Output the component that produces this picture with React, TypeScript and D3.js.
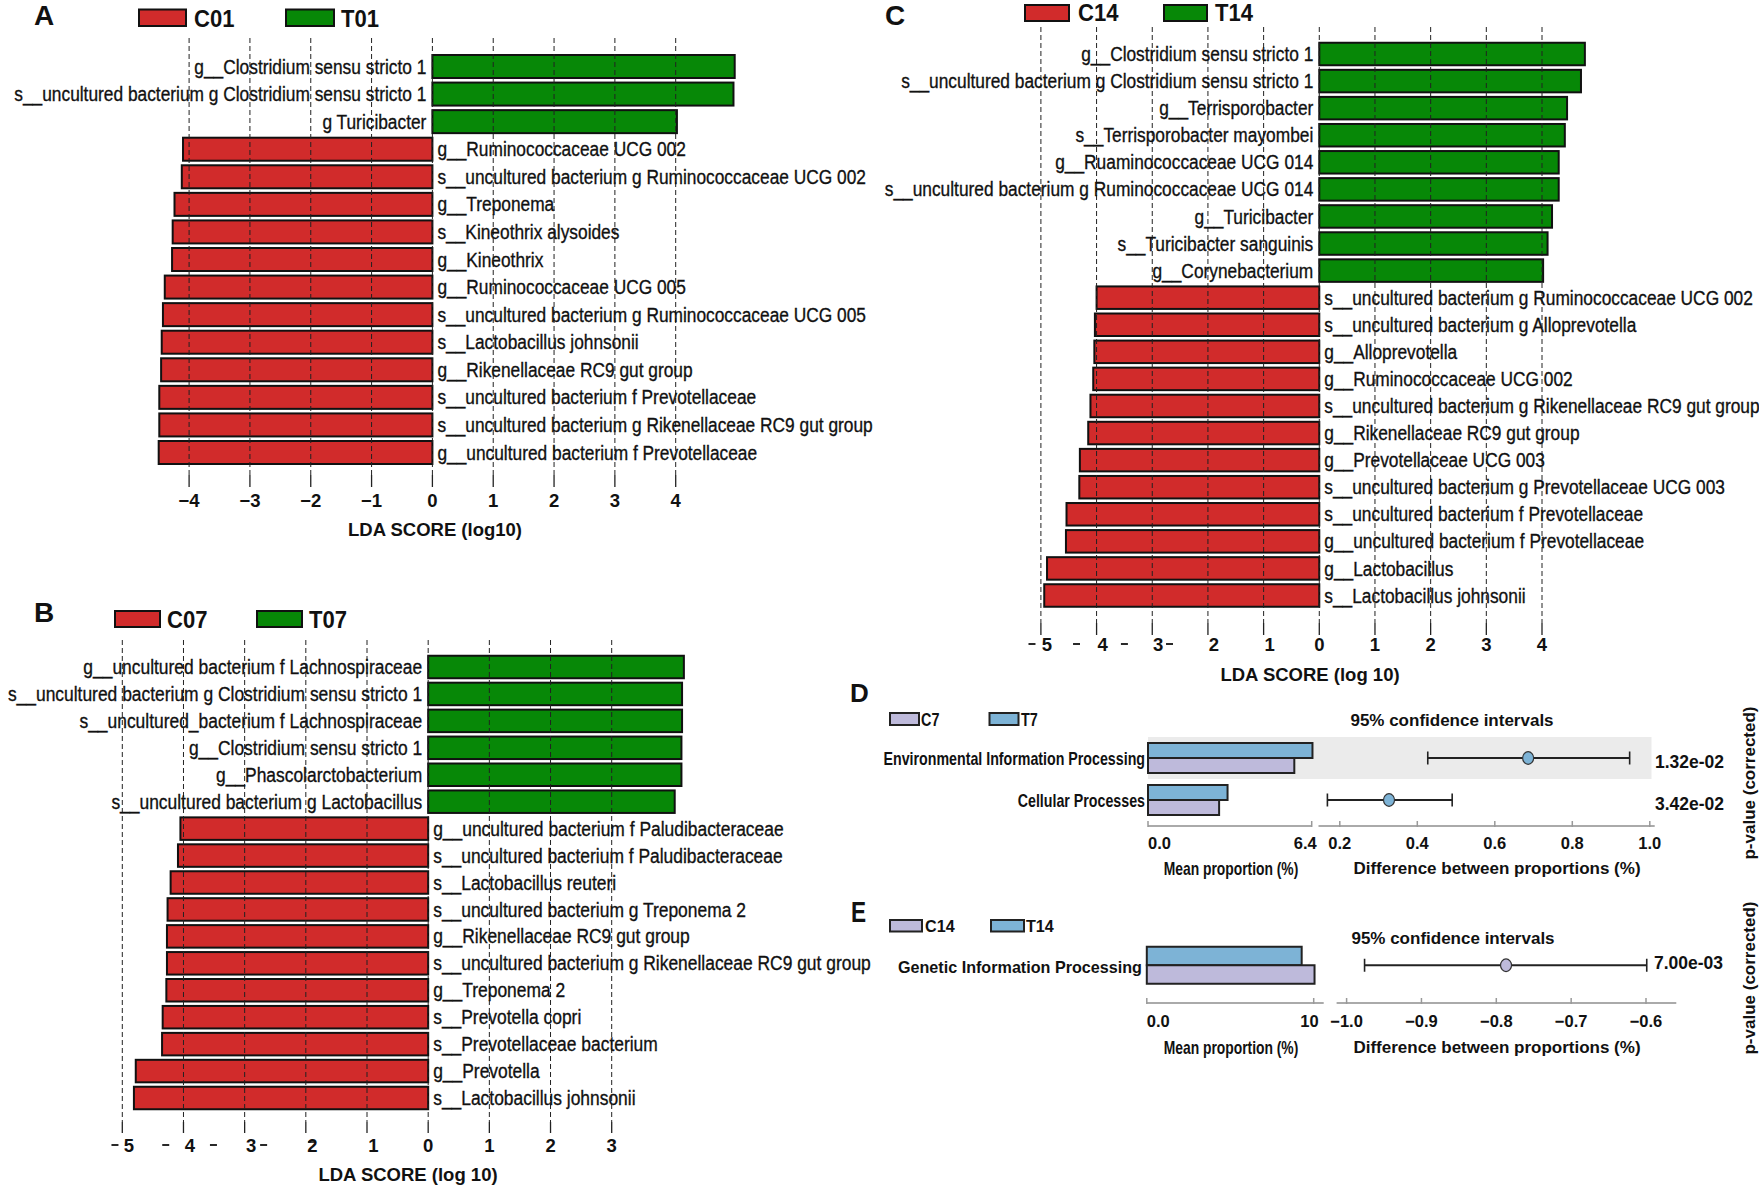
import React from 'react';
import * as d3 from 'd3';

const FONT = '"Liberation Sans", Arial, Helvetica, sans-serif';
const RED = '#d12b2b';
const GREEN = '#078807';
const BLUE = '#7db3d6';
const LAVENDER = '#bebadb';

// ---------------- Panel A data ----------------
const taxaA = [
  'g__Clostridium sensu stricto 1',
  's__uncultured bacterium g Clostridium sensu stricto 1',
  'g Turicibacter',
  'g__Ruminococcaceae UCG 002',
  's__uncultured bacterium g Ruminococcaceae UCG 002',
  'g__Treponema',
  's__Kineothrix alysoides',
  'g__Kineothrix',
  'g__Ruminococcaceae UCG 005',
  's__uncultured bacterium g Ruminococcaceae UCG 005',
  's__Lactobacillus johnsonii',
  'g__Rikenellaceae RC9 gut group',
  's__uncultured bacterium f Prevotellaceae',
  's__uncultured bacterium g Rikenellaceae RC9 gut group',
  'g__uncultured bacterium f Prevotellaceae',
];
const scoresA = [4.97, 4.95, 4.02, -4.1, -4.12, -4.24, -4.27, -4.28, -4.4, -4.43, -4.45, -4.46, -4.49, -4.49, -4.5];
const groupsA = ['C01', 'T01'];
const ticksA = [-4, -3, -2, -1, 0, 1, 2, 3, 4];
const tickLabelsA = ['−4', '−3', '−2', '−1', '0', '1', '2', '3', '4'];
const dashesA: number[] = [];
const struckA: number[] = [];

// ---------------- Panel B data ----------------
const taxaB = [
  'g__uncultured bacterium f Lachnospiraceae',
  's__uncultured bacterium g Clostridium sensu stricto 1',
  's__uncultured_bacterium f Lachnospiraceae',
  'g__Clostridium sensu stricto 1',
  'g__Phascolarctobacterium',
  's__uncultured bacterium g Lactobacillus',
  'g__uncultured bacterium f Paludibacteraceae',
  's__uncultured bacterium f Paludibacteraceae',
  's__Lactobacillus reuteri',
  's__uncultured bacterium g Treponema 2',
  'g__Rikenellaceae RC9 gut group',
  's__uncultured bacterium g Rikenellaceae RC9 gut group',
  'g__Treponema 2',
  's__Prevotella copri',
  's__Prevotellaceae bacterium',
  'g__Prevotella',
  's__Lactobacillus johnsonii',
];
const scoresB = [4.18, 4.15, 4.15, 4.14, 4.14, 4.03, -4.05, -4.09, -4.21, -4.26, -4.27, -4.27, -4.28, -4.34, -4.35, -4.78, -4.81];
const groupsB = ['C07', 'T07'];
const ticksB = [-5, -4, -3, -2, -1, 0, 1, 2, 3];
const tickLabelsB = ['5', '4', '3', '2', '1', '0', '1', '2', '3'];
const dashesB = [-5.12, -4.29, -3.51, -2.69];
const struckB = [-1.9];

// ---------------- Panel C data ----------------
const taxaC = [
  'g__Clostridium sensu stricto 1',
  's__uncultured bacterium g Clostridium sensu stricto 1',
  'g__Terrisporobacter',
  's__Terrisporobacter mayombei',
  'g__Ruaminococcaceae UCG 014',
  's__uncultured bacterium g Ruminococcaceae UCG 014',
  'g__Turicibacter',
  's__Turicibacter sanguinis',
  'g__Corynebacterium',
  's__uncultured bacterium g Ruminococcaceae UCG 002',
  's__uncultured bacterium g Alloprevotella',
  'g__Alloprevotella',
  'g__Ruminococcaceae UCG 002',
  's__uncultured bacterium g Rikenellaceae RC9 gut group',
  'g__Rikenellaceae RC9 gut group',
  'g__Prevotellaceae UCG 003',
  's__uncultured bacterium g Prevotellaceae UCG 003',
  's__uncultured bacterium f Prevotellaceae',
  'g__uncultured bacterium f Prevotellaceae',
  'g__Lactobacillus',
  's__Lactobacillus johnsonii',
];
const scoresC = [4.77, 4.7, 4.45, 4.41, 4.3, 4.3, 4.18, 4.1, 4.02, -4.0, -4.03, -4.04, -4.06, -4.11, -4.15, -4.3, -4.31, -4.54, -4.55, -4.89, -4.94];
const groupsC = ['C14', 'T14'];
const ticksC = [-5, -4, -3, -2, -1, 0, 1, 2, 3, 4];
const tickLabelsC = ['5', '4', '3', '2', '1', '0', '1', '2', '3', '4'];
const dashesC = [-5.16, -4.36, -3.5, -2.69];
const struckC: number[] = [];

// ---------------- Panel D data ----------------
const catsD = ['Environmental Information Processing', 'Cellular Processes'];
const groupsD = ['C7', 'T7'];
const meanTD = [6.43, 3.11];
const meanCD = [5.72, 2.78];
const diffD = [0.686, 0.327];
const loD = [0.427, 0.168];
const hiD = [0.948, 0.49];
const pD = ['1.32e-02', '3.42e-02'];
const meanTicksD = [0, 6.4];
const meanTickLabelsD = ['0.0', '6.4'];
const diffTicksD = [0.2, 0.4, 0.6, 0.8, 1.0];
const diffTickLabelsD = ['0.2', '0.4', '0.6', '0.8', '1.0'];

// ---------------- Panel E data ----------------
const catsE = ['Genetic Information Processing'];
const groupsE = ['C14', 'T14'];
const meanTE = [9.28];
const meanCE = [10.05];
const diffE = [-0.787];
const loE = [-0.976];
const hiE = [-0.599];
const pE = ['7.00e-03'];
const meanTicksE = [0, 10];
const meanTickLabelsE = ['0.0', '10'];
const diffTicksE = [-1.0, -0.9, -0.8, -0.7, -0.6];
const diffTickLabelsE = ['−1.0', '−0.9', '−0.8', '−0.7', '−0.6'];

// ---------------- Layout configs ----------------
const cfgA = {
  letter: 'A', letterX: 34, letterY: 25,
  legendY: 9.5, legendH: 16.5, legend: [{ x: 139, w: 47, tx: 194 }, { x: 286, w: 48, tx: 341 }], legendBase: 26.5,
  domain: [-4, 4], range: [189.1, 675.7],
  firstY: 66.5, lastY: 452.5, barH: 23,
  gridTop: 38, tickTop: 475, tickBottom: 487, tickLabelY: 500, negOffset: 0,
  title: 'LDA SCORE (log10)', titleX: 435, titleY: 529,
  labelSize: 21, labelScale: 0.825,
};
const cfgB = {
  letter: 'B', letterX: 34, letterY: 621.5,
  legendY: 611, legendH: 16, legend: [{ x: 115, w: 45, tx: 167 }, { x: 257, w: 45, tx: 309 }], legendBase: 628,
  domain: [-5, 3], range: [122.3, 611.7],
  firstY: 667, lastY: 1098, barH: 22.5,
  gridTop: 640, tickTop: 1122, tickBottom: 1133, tickLabelY: 1145, negOffset: 6.5,
  title: 'LDA SCORE (log 10)', titleX: 408, titleY: 1174,
  labelSize: 21, labelScale: 0.83,
};
const cfgC = {
  letter: 'C', letterX: 885, letterY: 25,
  legendY: 5, legendH: 16, legend: [{ x: 1025, w: 44, tx: 1078 }, { x: 1164, w: 43, tx: 1215 }], legendBase: 21,
  domain: [-5, 4], range: [1040.9, 1542],
  firstY: 54, lastY: 595.5, barH: 22.5,
  gridTop: 27, tickTop: 623, tickBottom: 635, tickLabelY: 644, negOffset: 6,
  title: 'LDA SCORE (log 10)', titleX: 1310, titleY: 674,
  labelSize: 21, labelScale: 0.825,
};

const cfgD = {
  letter: 'D', letterX: 850, letterY: 702, letterSize: 26, letterScale: 1,
  legend: [{ x: 890, w: 29, tx: 921 }, { x: 989.5, w: 29, tx: 1021 }], legendY: 713, legendH: 12, legendBase: 726, legendSize: 18, legendScale: 0.8,
  ciX: 1452, ciY: 720,
  bandTop: 737, bandBottom: 821, shade: [0], shadeX0: 1148, shadeX1: 1651.5,
  barH: 15,
  meanDomain: [0, 6.4], meanRange: [1148, 1311.7], meanAxisEnd: 1311.7,
  diffDomain: [0.2, 1.0], diffRange: [1339.8, 1649.8], diffAxisStart: 1318.5, diffAxisEnd: 1654.7,
  axisY: 826, tickLabelY: 843,
  meanTitleX: 1231, diffTitleX: 1497, axisTitleY: 868,
  pX: 1655, pDy: 4,
  pvalX: 1749, pvalY: 783,
  labelX: 1145, labelSize: 18, labelScale: 0.79, labelDy: 0,
  pointColor: BLUE,
};
const cfgE = {
  letter: 'E', letterX: 851, letterY: 921.5, letterSize: 29, letterScale: 0.78,
  legend: [{ x: 890, w: 32, tx: 925 }, { x: 991, w: 33, tx: 1026 }], legendY: 920, legendH: 11.5, legendBase: 932, legendSize: 17, legendScale: 0.95,
  ciX: 1453, ciY: 938,
  bandTop: 946.5, bandBottom: 984, shade: [] as number[], shadeX0: 0, shadeX1: 0,
  barH: 18.5,
  meanDomain: [0, 10], meanRange: [1146.8, 1313.7], meanAxisEnd: 1323.7,
  diffDomain: [-1.0, -0.6], diffRange: [1346.6, 1646], diffAxisStart: 1336.6, diffAxisEnd: 1676.3,
  axisY: 1003, tickLabelY: 1021,
  meanTitleX: 1231, diffTitleX: 1497, axisTitleY: 1047,
  pX: 1654, pDy: -2,
  pvalX: 1749, pvalY: 978,
  labelX: 1142, labelSize: 17, labelScale: 0.95, labelDy: 2,
  pointColor: LAVENDER,
};

function LdaPanel(props: any) {
  const { taxa, scores, groups, ticks, tickLabels, dashes, struck, cfg } = props;
  const x = d3.scaleLinear().domain(cfg.domain).range(cfg.range);
  const y = d3.scalePoint<number>().domain(d3.range(taxa.length)).range([cfg.firstY, cfg.lastY]);
  const x0 = x(0);
  return (
    <g fontFamily={FONT} fill="#111">
      <text x={cfg.letterX} y={cfg.letterY} fontSize={28} fontWeight="bold">{cfg.letter}</text>
      {groups.map((g: string, i: number) => (
        <g key={g}>
          <rect x={cfg.legend[i].x} y={cfg.legendY} width={cfg.legend[i].w} height={cfg.legendH}
            fill={i === 0 ? RED : GREEN} stroke="#111" strokeWidth={2} />
          <text transform={`translate(${cfg.legend[i].tx},${cfg.legendBase}) scale(0.92,1)`} fontSize={24} fontWeight="bold">{g}</text>
        </g>
      ))}
      {taxa.map((t: string, i: number) => {
        const v = scores[i];
        const xv = x(v);
        return (
          <rect key={'b' + i} x={Math.min(xv, x0)} y={(y(i) as number) - cfg.barH / 2}
            width={Math.abs(xv - x0)} height={cfg.barH}
            fill={v < 0 ? RED : GREEN} stroke="#111" strokeWidth={2} />
        );
      })}
      {ticks.map((t: number) => (
        <g key={'g' + t}>
          <line x1={x(t)} x2={x(t)} y1={cfg.gridTop} y2={cfg.tickTop} stroke="#222" strokeWidth={1} strokeDasharray="5,3" />
          <line x1={x(t)} x2={x(t)} y1={cfg.tickTop} y2={cfg.tickBottom} stroke="#222" strokeWidth={1.3} />
        </g>
      ))}
      {taxa.map((t: string, i: number) => {
        const v = scores[i];
        const tx = v >= 0 ? x0 - 6 : x0 + 5;
        return (
          <text key={'l' + i} transform={`translate(${tx},${y(i)}) scale(${cfg.labelScale},1)`}
            textAnchor={v >= 0 ? 'end' : 'start'} dominantBaseline="central" fontSize={cfg.labelSize}
            stroke="#111" strokeWidth={0.35}>{t}</text>
        );
      })}
      {ticks.map((t: number, i: number) => (
        <text key={'tl' + t} x={x(t) + (t < 0 ? cfg.negOffset : 0)} y={cfg.tickLabelY} textAnchor="middle"
          dominantBaseline="central" fontSize={18.5} fontWeight="bold">{tickLabels[i]}</text>
      ))}
      {dashes.map((d: number, i: number) => (
        <line key={'d' + i} x1={x(d) - 3.5} x2={x(d) + 3.5} y1={cfg.tickLabelY} y2={cfg.tickLabelY} stroke="#111" strokeWidth={1.8} />
      ))}
      {struck.map((d: number, i: number) => (
        <line key={'s' + i} x1={x(d) - 4} x2={x(d) + 4} y1={cfg.tickLabelY - 3} y2={cfg.tickLabelY - 3} stroke="#111" strokeWidth={1.6} />
      ))}
      <text x={cfg.titleX} y={cfg.titleY} textAnchor="middle" dominantBaseline="central" fontSize={18.5} fontWeight="bold">{cfg.title}</text>
    </g>
  );
}

function StampPanel(props: any) {
  const { cats, groups, meanT, meanC, diff, lo, hi, pvals, meanTicks, meanTickLabels, diffTicks, diffTickLabels, cfg } = props;
  const y = d3.scaleBand<number>().domain(d3.range(cats.length)).range([cfg.bandTop, cfg.bandBottom]);
  const xm = d3.scaleLinear().domain(cfg.meanDomain).range(cfg.meanRange);
  const xd = d3.scaleLinear().domain(cfg.diffDomain).range(cfg.diffRange);
  const bw = y.bandwidth();
  return (
    <g fontFamily={FONT} fill="#111">
      <text transform={`translate(${cfg.letterX},${cfg.letterY}) scale(${cfg.letterScale},1)`} fontSize={cfg.letterSize} fontWeight="bold">{cfg.letter}</text>
      {groups.map((g: string, i: number) => (
        <g key={g}>
          <rect x={cfg.legend[i].x} y={cfg.legendY} width={cfg.legend[i].w} height={cfg.legendH}
            fill={i === 0 ? LAVENDER : BLUE} stroke="#222" strokeWidth={2} />
          <text transform={`translate(${cfg.legend[i].tx},${cfg.legendBase}) scale(${cfg.legendScale},1)`} fontSize={cfg.legendSize} fontWeight="bold">{g}</text>
        </g>
      ))}
      <text x={cfg.ciX} y={cfg.ciY} textAnchor="middle" dominantBaseline="central" fontSize={17} fontWeight="bold">95% confidence intervals</text>
      {cfg.shade.map((i: number) => (
        <rect key={'sh' + i} x={cfg.shadeX0} width={cfg.shadeX1 - cfg.shadeX0} y={y(i) as number} height={bw} fill="#ebebeb" />
      ))}
      {cats.map((c: string, i: number) => {
        const cy = (y(i) as number) + bw / 2;
        return (
          <g key={'c' + i}>
            <rect x={xm(0)} y={cy - cfg.barH} width={xm(meanT[i]) - xm(0)} height={cfg.barH} fill={BLUE} stroke="#222" strokeWidth={2} />
            <rect x={xm(0)} y={cy} width={xm(meanC[i]) - xm(0)} height={cfg.barH} fill={LAVENDER} stroke="#222" strokeWidth={2} />
            <text transform={`translate(${cfg.labelX},${cy + cfg.labelDy}) scale(${cfg.labelScale},1)`} textAnchor="end"
              dominantBaseline="central" fontSize={cfg.labelSize} fontWeight="bold">{c}</text>
            <line x1={xd(lo[i])} x2={xd(hi[i])} y1={cy} y2={cy} stroke="#222" strokeWidth={2} />
            <line x1={xd(lo[i])} x2={xd(lo[i])} y1={cy - 6.5} y2={cy + 6.5} stroke="#222" strokeWidth={1.6} />
            <line x1={xd(hi[i])} x2={xd(hi[i])} y1={cy - 6.5} y2={cy + 6.5} stroke="#222" strokeWidth={1.6} />
            <ellipse cx={xd(diff[i])} cy={cy} rx={5.5} ry={6.3} fill={cfg.pointColor} stroke="#333" strokeWidth={1.2} />
            <text x={cfg.pX} y={cy + cfg.pDy} dominantBaseline="central" fontSize={17.5} fontWeight="bold">{pvals[i]}</text>
          </g>
        );
      })}
      <line x1={xm(0)} x2={cfg.meanAxisEnd} y1={cfg.axisY} y2={cfg.axisY} stroke="#aaa" strokeWidth={2} />
      {meanTicks.map((t: number, i: number) => (
        <g key={'mt' + i}>
          <line x1={xm(t)} x2={xm(t)} y1={cfg.axisY - 5} y2={cfg.axisY + 1} stroke="#999" strokeWidth={1.5} />
          <text x={i === 0 ? xm(t) : xm(t) + 5} y={cfg.tickLabelY} textAnchor={i === 0 ? 'start' : 'end'}
            dominantBaseline="central" fontSize={16.5} fontWeight="bold">{meanTickLabels[i]}</text>
        </g>
      ))}
      <line x1={cfg.diffAxisStart} x2={cfg.diffAxisEnd} y1={cfg.axisY} y2={cfg.axisY} stroke="#aaa" strokeWidth={2} />
      {diffTicks.map((t: number, i: number) => (
        <g key={'dt' + i}>
          <line x1={xd(t)} x2={xd(t)} y1={cfg.axisY - 5} y2={cfg.axisY + 1} stroke="#999" strokeWidth={1.5} />
          <text x={xd(t)} y={cfg.tickLabelY} textAnchor="middle" dominantBaseline="central" fontSize={16.5} fontWeight="bold">{diffTickLabels[i]}</text>
        </g>
      ))}
      <text transform={`translate(${cfg.meanTitleX},${cfg.axisTitleY}) scale(0.77,1)`} textAnchor="middle" dominantBaseline="central" fontSize={18} fontWeight="bold">Mean proportion (%)</text>
      <text x={cfg.diffTitleX} y={cfg.axisTitleY} textAnchor="middle" dominantBaseline="central" fontSize={17} fontWeight="bold">Difference between proportions (%)</text>
      <text transform={`translate(${cfg.pvalX},${cfg.pvalY}) rotate(-90)`} textAnchor="middle" dominantBaseline="central" fontSize={17} fontWeight="bold">p-value (corrected)</text>
    </g>
  );
}

export default function App() {
  return (
    <svg width={1759} height={1185} viewBox="0 0 1759 1185"
      style={{ position: 'absolute', left: 0, top: 0, background: '#fff' }}>
      <rect x={0} y={0} width={1759} height={1185} fill="#fff" />
      <LdaPanel taxa={taxaA} scores={scoresA} groups={groupsA} ticks={ticksA} tickLabels={tickLabelsA}
        dashes={dashesA} struck={struckA} cfg={cfgA} />
      <LdaPanel taxa={taxaB} scores={scoresB} groups={groupsB} ticks={ticksB} tickLabels={tickLabelsB}
        dashes={dashesB} struck={struckB} cfg={cfgB} />
      <LdaPanel taxa={taxaC} scores={scoresC} groups={groupsC} ticks={ticksC} tickLabels={tickLabelsC}
        dashes={dashesC} struck={struckC} cfg={cfgC} />
      <StampPanel cats={catsD} groups={groupsD} meanT={meanTD} meanC={meanCD} diff={diffD} lo={loD} hi={hiD}
        pvals={pD} meanTicks={meanTicksD} meanTickLabels={meanTickLabelsD} diffTicks={diffTicksD}
        diffTickLabels={diffTickLabelsD} cfg={cfgD} />
      <StampPanel cats={catsE} groups={groupsE} meanT={meanTE} meanC={meanCE} diff={diffE} lo={loE} hi={hiE}
        pvals={pE} meanTicks={meanTicksE} meanTickLabels={meanTickLabelsE} diffTicks={diffTicksE}
        diffTickLabels={diffTickLabelsE} cfg={cfgE} />
    </svg>
  );
}
